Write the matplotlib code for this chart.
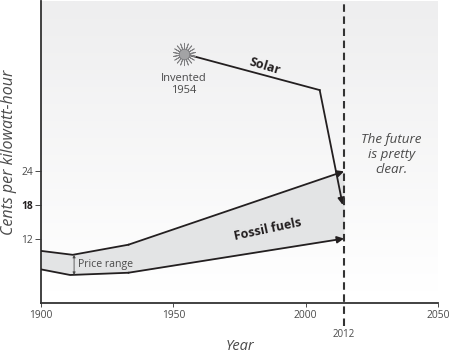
import numpy as np
import matplotlib
matplotlib.use("Agg")
import matplotlib.pyplot as plt

plt.rcParams["font.family"] = ["Open Sans", "DejaVu Sans"]

# the dashed line sits a bit right of a true 2012 in the original drawing
now_pos = 2014.5

# fossil fuel band
upper_years = [1900, 1912, 1933, now_pos]
upper_cents = [9.8, 9.1, 10.9, 24]
lower_years = [1900, 1911, 1933, now_pos]
lower_cents = [6.5, 5.5, 5.9, 12]
band_years = [1900, 1911, 1912, 1933, now_pos]
band_upper = [9.8, 9.15, 9.1, 10.9, 24]
band_lower = [6.5, 5.5, 5.5, 5.9, 12]

# solar
solar_years = [1954, 2005.3, 2014]
solar_cents = [45, 38.5, 18]

x_ticks = [1900, 1950, 2000, 2050]
y_ticks = [12, 18, 24]

dark = "#231f20"
grey = "#4a4a4a"

fig = plt.figure(figsize=(4.5, 3.52), dpi=100)
ax = fig.add_axes([41 / 450, 49 / 352, 397 / 450, 302 / 352])
ax.set_xlim(1900, 2050)
ax.set_ylim(0.5, 54.4)

# background gradient, grey on top and white near the axis
grad = np.linspace(0, 1, 256).reshape(-1, 1)
ax.imshow(grad, extent=[1900, 2050, 2.5, 54.4], aspect="auto", origin="lower",
          cmap=matplotlib.colors.LinearSegmentedColormap.from_list("bg", ["#ffffff", "#eeeeef"]),
          vmin=0, vmax=1, zorder=0)

ax.fill_between(band_years, band_lower, band_upper, color="#e3e4e5", lw=0, zorder=1)

arrow = dict(arrowstyle="-|>", color=dark, lw=1.3, mutation_scale=10, shrinkA=0, shrinkB=0)
ax.plot(upper_years[:3], upper_cents[:3], color=dark, lw=1.3, zorder=3)
ax.plot(lower_years[:3], lower_cents[:3], color=dark, lw=1.3, zorder=3)
ax.annotate("", xy=(upper_years[3], upper_cents[3]), xytext=(upper_years[2], upper_cents[2]), arrowprops=arrow, zorder=4)
ax.annotate("", xy=(lower_years[3], lower_cents[3]), xytext=(lower_years[2], lower_cents[2]), arrowprops=arrow, zorder=4)

# solar line with arrow head
ax.plot(solar_years[:2], solar_cents[:2], color=dark, lw=1.3, zorder=3)
ax.annotate("", xy=(solar_years[2], solar_cents[2]), xytext=(solar_years[1], solar_cents[1]), arrowprops=arrow, zorder=4)

# sun
ax.scatter([solar_years[0]], [solar_cents[0]], marker=(18, 2, 0), s=260, color="#808082", lw=0.6, zorder=5)
ax.scatter([solar_years[0]], [solar_cents[0]], marker="o", s=60, color="#a3a3a5", edgecolor="#77777a", lw=0.6, zorder=6)

# 2012 divider
ax.axvline(now_pos, ymin=-0.075, ymax=1, color="#333333", lw=1.5, ls=(0, (3.6, 2.2)), clip_on=False, zorder=5)

# price range marker
ax.annotate("", xy=(1912.5, 5.5), xytext=(1912.5, 9.1),
            arrowprops=dict(arrowstyle="<|-|>", color=grey, lw=0.6, mutation_scale=4, shrinkA=0, shrinkB=0), zorder=4)

# texts
ax.text(1914, 7.3, "Price range", fontsize=7.6, color=grey, va="center", ha="left")
ax.text(1954, 39.5, "Invented\n1954", fontsize=8, color=grey, ha="center", va="center", linespacing=1.2)
ax.text(1984.5, 42.8, "Solar", fontsize=9, fontweight="bold", color=dark, rotation=-17, ha="center", va="center")
ax.text(1985.5, 13.7, "Fossil fuels", fontsize=9, fontweight="bold", color=dark, rotation=12, ha="center", va="center")
ax.text(2032.5, 27, "The future\nis pretty\nclear.", fontsize=9.6, style="italic", color=grey,
        ha="center", va="center", linespacing=1.22)
ax.text(now_pos, -5.2, "2012", fontsize=7, color=grey, ha="center", va="center", clip_on=False)

ax.set_xticks(x_ticks)
ax.set_yticks(y_ticks)
ax.set_yticklabels([str(v) for v in y_ticks], fontsize=7.4, color=grey)
ax.get_yticklabels()[1].set_fontweight("bold")
ax.get_yticklabels()[1].set_color(dark)
ax.set_xticklabels([str(v) for v in x_ticks], fontsize=7.4, color=grey)
ax.tick_params(axis="y", length=4, width=0.7, color=grey, pad=1.5)
ax.tick_params(axis="x", length=3, width=0.7, color=grey, pad=2, direction="out")

for side in ["top", "right"]:
    ax.spines[side].set_visible(False)
for side in ["left", "bottom"]:
    ax.spines[side].set_color("#333333")
    ax.spines[side].set_linewidth(1.3)

fig.text(240 / 450, 1 - 346 / 352, "Year", fontsize=10.5, style="italic", color=grey, ha="center", va="center")
fig.text(9 / 450, 1 - 152 / 352, "Cents per kilowatt-hour", fontsize=11.5, style="italic", color=grey,
         rotation=90, ha="center", va="center")

fig.savefig("out.png", dpi=100)
